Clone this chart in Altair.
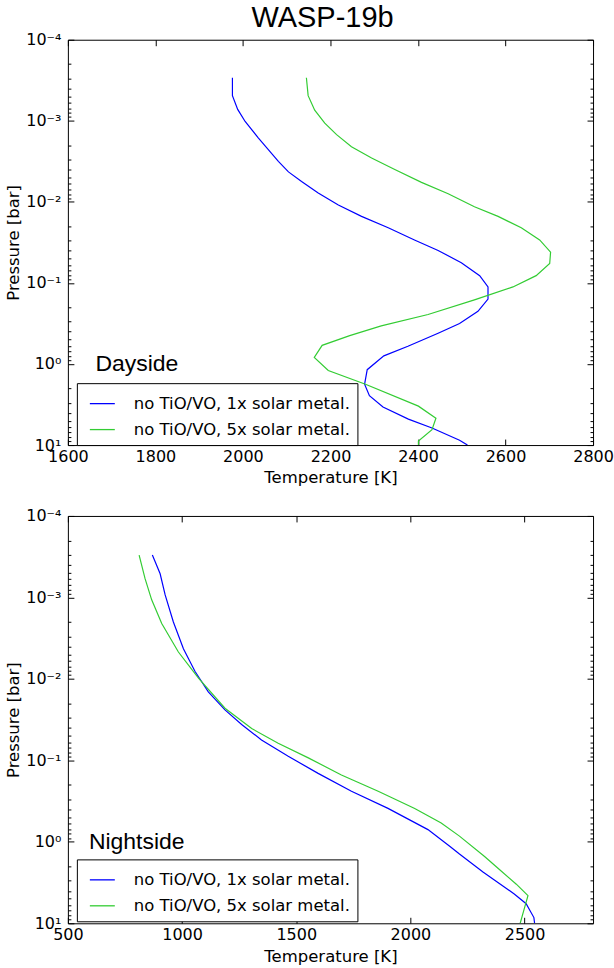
import altair as alt
import pandas as pd

series_names = ["no TiO/VO, 1x solar metal.", "no TiO/VO, 5x solar metal."]
series_colors = ["#0000ff", "#33cc33"]

# ---- Dayside (top panel) ----
day_p_1x = [2.95e-4, 4.9e-4, 7.24e-4, 1.02e-3, 1.62e-3, 3.16e-3, 4.27e-3, 5.62e-3, 7.76e-3,
            0.01096, 0.0151, 0.0209, 0.0295, 0.0398, 0.0562, 0.0813, 0.112, 0.158, 0.224,
            0.316, 0.417, 0.603, 0.794, 1.175, 1.778, 2.455, 3.39, 4.79, 6.17, 8.71, 10.0]
day_t_1x = [1976, 1976, 1988, 2005, 2035, 2081, 2104, 2134, 2172,
            2218, 2271, 2332, 2392, 2446, 2499, 2541, 2560, 2560, 2537,
            2495, 2446, 2377, 2322, 2284, 2278, 2289, 2320, 2378, 2432, 2495, 2513]

day_p_5x = [2.95e-4, 4.9e-4, 7.41e-4, 1.07e-3, 1.48e-3, 2.09e-3, 2.88e-3, 3.98e-3, 5.75e-3,
            7.94e-3, 0.0115, 0.0151, 0.0209, 0.0295, 0.0417, 0.0575, 0.0813, 0.112, 0.162,
            0.245, 0.339, 0.447, 0.589, 0.832, 1.202, 1.778, 3.311, 4.677, 6.457, 8.913, 10.0]
day_t_5x = [2145, 2149, 2164, 2187, 2214, 2248, 2294, 2347, 2408,
            2469, 2529, 2583, 2636, 2678, 2703, 2701, 2670, 2617, 2529,
            2423, 2316, 2244, 2181, 2163, 2195, 2280, 2401, 2441, 2432, 2401, 2401]

# ---- Nightside (bottom panel) ----
night_p_1x = [3.02e-4, 5.13e-4, 9.33e-4, 2.0e-3, 4.27e-3, 8.13e-3, 0.01445, 0.024, 0.0363,
              0.0562, 0.0891, 0.1445, 0.24, 0.389, 0.708, 1.148, 1.413, 2.344, 4.365,
              5.754, 8.511, 10.0]
night_t_1x = [870, 904, 926, 962, 1006, 1057, 1115, 1188, 1261,
              1348, 1465, 1596, 1742, 1902, 2077, 2175, 2215, 2318, 2455,
              2507, 2541, 2544]

night_p_5x = [3.02e-4, 5.89e-4, 1.07e-3, 2.09e-3, 4.68e-3, 9.77e-3, 0.0229, 0.0407, 0.0617,
              0.0933, 0.151, 0.24, 0.389, 0.589, 0.851, 1.514, 2.188, 3.311, 4.571,
              6.761, 10.0]
night_t_5x = [812, 838, 867, 911, 984, 1072, 1188, 1305, 1421,
              1553, 1698, 1859, 2019, 2135, 2215, 2325, 2390, 2464, 2515,
              2498, 2481]

day_x_domain = [1600, 2800]
day_x_ticks = [1600, 1800, 2000, 2200, 2400, 2600, 2800]
night_x_domain = [500, 2800]
night_x_ticks = [500, 1000, 1500, 2000, 2500]

p_major = [1e-4, 1e-3, 1e-2, 1e-1, 1, 10]
p_labels = ["10⁻⁴", "10⁻³", "10⁻²", "10⁻¹", "10⁰", "10¹"]
p_minor = [m * 10.0 ** e for e in range(-4, 1) for m in range(2, 10)]

notes = ["Dayside", "Nightside"]
note_t = [1663, 592]
note_p = [1.0, 1.0]

label_expr = "[" + ",".join("'%s'" % s for s in p_labels) + "][round(log(datum.value)/LN10)+4]"


def make_df(p1, t1, p2, t2):
    rows = []
    for name, ps, ts in ((series_names[0], p1, t1), (series_names[1], p2, t2)):
        for i, (p, t) in enumerate(zip(ps, ts)):
            rows.append({"series": name, "P": p, "T": t, "i": i})
    return pd.DataFrame(rows)


def tick_axis(orient, values, size):
    return alt.Axis(orient=orient, values=values, labels=False, domain=False, grid=False,
                    ticks=True, tickSize=size, offset=-size, tickColor="black",
                    tickWidth=1, title=None)


def panel(df, xdom, xticks, k, height):
    xs = alt.Scale(domain=xdom, nice=False, zero=False)
    ys = alt.Scale(type="log", domain=[1e-4, 10], reverse=True, nice=False)
    base = alt.Chart(df)
    lines = base.mark_line(strokeWidth=1.2, clip=True).encode(
        x=alt.X("T:Q", scale=xs, axis=alt.Axis(
            orient="bottom", values=xticks, format="d", ticks=False, domain=False, grid=False,
            labelFontSize=16, labelPadding=3, labelFlush=False, labelOverlap=False,
            title="Temperature [K]", titleFontSize=16.5, titlePadding=6,
            titleFontWeight="normal")),
        y=alt.Y("P:Q", scale=ys, axis=alt.Axis(
            orient="left", values=p_major, labelExpr=label_expr, ticks=False,
            domain=False, grid=False, labelFontSize=16, labelPadding=7,
            labelFlush=False, labelOverlap=False, title="Pressure [bar]",
            titleFontSize=16.5, titlePadding=4, titleFontWeight="normal")),
        color=alt.Color("series:N", scale=alt.Scale(domain=series_names, range=series_colors),
                        legend=alt.Legend(orient="none", legendX=9, legendY=344, title=None,
                                          symbolType="stroke", symbolSize=625,
                                          symbolStrokeWidth=1.3, symbolOffset=5,
                                          labelFontSize=16.5,
                                          labelFont="DejaVu Sans", labelColor="black",
                                          labelOffset=18, padding=7, rowPadding=4,
                                          strokeColor="black", fillColor="white",
                                          labelLimit=400, cornerRadius=0)),
        order=alt.Order("i:Q"),
    )
    inv = base.mark_point(opacity=0, size=1)
    t1 = inv.encode(x=alt.X("T:Q", scale=xs, axis=tick_axis("bottom", xticks, 6)),
                    y=alt.Y("P:Q", scale=ys, axis=tick_axis("left", p_major, 6)))
    t2 = inv.encode(x=alt.X("T:Q", scale=xs, axis=tick_axis("top", xticks, 6)),
                    y=alt.Y("P:Q", scale=ys, axis=tick_axis("right", p_major, 6)))
    t3 = inv.encode(x=alt.X("T:Q", scale=xs, axis=None),
                    y=alt.Y("P:Q", scale=ys, axis=tick_axis("left", p_minor, 3)))
    t4 = inv.encode(x=alt.X("T:Q", scale=xs, axis=None),
                    y=alt.Y("P:Q", scale=ys, axis=tick_axis("right", p_minor, 3)))
    note_df = pd.DataFrame({"label": [notes[k]], "T": [note_t[k]], "P": [note_p[k]]})
    text = alt.Chart(note_df).mark_text(align="left", baseline="middle", fontSize=23,
                                        font="Liberation Sans", color="black").encode(
        x=alt.X("T:Q", scale=xs, axis=None),
        y=alt.Y("P:Q", scale=ys, axis=None),
        text="label:N",
    )
    return alt.layer(lines, t1, t2, t3, t4, text).resolve_axis(
        x="independent", y="independent").properties(width=526, height=height)


top = panel(make_df(day_p_1x, day_t_1x, day_p_5x, day_t_5x), day_x_domain, day_x_ticks, 0, 406)
bottom = panel(make_df(night_p_1x, night_t_1x, night_p_5x, night_t_5x), night_x_domain,
               night_x_ticks, 1, 408)

chart = alt.vconcat(top, bottom, spacing=20).resolve_scale(
    x="independent", y="independent", color="independent"
).resolve_legend(color="independent").properties(
    title=alt.TitleParams(text="WASP-19b", fontSize=29, font="Liberation Sans",
                          fontWeight="normal", anchor="middle", color="black", offset=-2,
                          dx=13),
    padding={"left": 5, "top": 3, "right": 0, "bottom": 0},
).configure_axis(
    labelFont="DejaVu Sans", titleFont="DejaVu Sans", labelColor="black", titleColor="black"
).configure_view(stroke="black", strokeWidth=1)

chart.save("out.html", embed_options={"renderer": "svg", "actions": False})
